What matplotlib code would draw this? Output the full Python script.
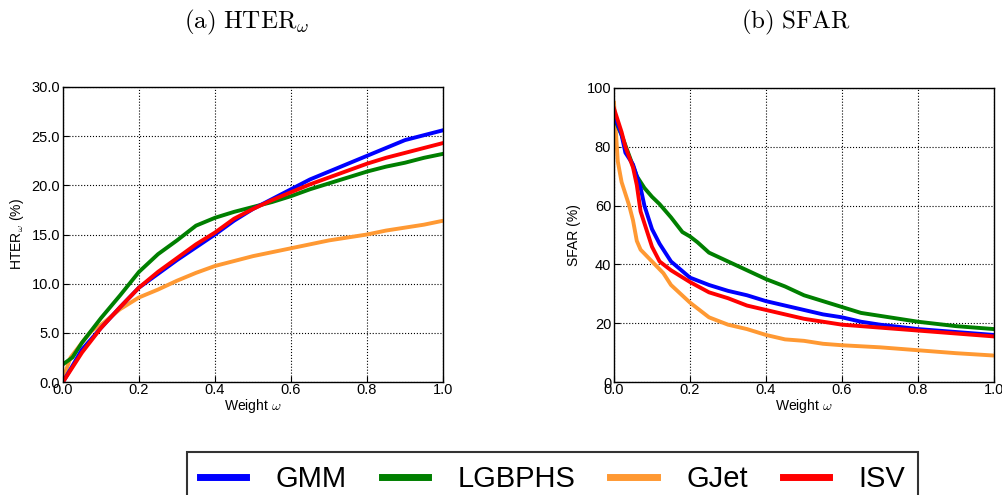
import numpy as np
import matplotlib
matplotlib.use('Agg')
import matplotlib.pyplot as plt

plt.rcParams['mathtext.fontset'] = 'cm'
plt.rcParams['font.family'] = ['Liberation Sans', 'DejaVu Sans']

names = ['GMM', 'LGBPHS', 'GJet', 'ISV']
colors = ['#0000ff', '#007f00', '#ff9933', '#ff0000']

# HTER_w (%) vs weight
hter_w = {
    'GMM': [0, 0.05, 0.1, 0.15, 0.2, 0.25, 0.3, 0.35, 0.4, 0.45, 0.5, 0.55, 0.6, 0.65, 0.7, 0.75, 0.8, 0.85, 0.9, 0.95, 1.0],
    'LGBPHS': [0, 0.025, 0.05, 0.1, 0.15, 0.2, 0.25, 0.3, 0.35, 0.4, 0.45, 0.5, 0.55, 0.6, 0.65, 0.7, 0.75, 0.8, 0.85, 0.9, 0.95, 1.0],
    'GJet': [0, 0.02, 0.05, 0.075, 0.1, 0.15, 0.2, 0.25, 0.3, 0.35, 0.4, 0.45, 0.5, 0.55, 0.6, 0.65, 0.7, 0.75, 0.8, 0.85, 0.9, 0.95, 1.0],
    'ISV': [0, 0.05, 0.1, 0.15, 0.2, 0.25, 0.3, 0.35, 0.4, 0.45, 0.5, 0.55, 0.6, 0.65, 0.7, 0.75, 0.8, 0.85, 0.9, 0.95, 1.0],
}
hter = {
    'GMM': [0, 3.3, 5.5, 7.6, 9.6, 11.0, 12.4, 13.7, 15.0, 16.4, 17.6, 18.6, 19.6, 20.6, 21.4, 22.2, 23.0, 23.8, 24.6, 25.1, 25.6],
    'LGBPHS': [1.8, 2.5, 4.0, 6.5, 8.8, 11.2, 13.0, 14.4, 15.9, 16.7, 17.3, 17.8, 18.3, 18.9, 19.6, 20.2, 20.8, 21.4, 21.9, 22.3, 22.8, 23.2],
    'GJet': [0.3, 2.5, 4.0, 5.2, 5.8, 7.4, 8.6, 9.4, 10.3, 11.1, 11.8, 12.3, 12.8, 13.2, 13.6, 14.0, 14.4, 14.7, 15.0, 15.4, 15.7, 16.0, 16.4],
    'ISV': [0, 3.0, 5.5, 7.6, 9.6, 11.2, 12.6, 14.0, 15.2, 16.6, 17.6, 18.5, 19.3, 20.1, 20.8, 21.5, 22.2, 22.8, 23.3, 23.8, 24.3],
}

# SFAR (%) vs weight
sfar_w = {
    'GMM': [0, 0.02, 0.03, 0.05, 0.07, 0.08, 0.1, 0.12, 0.15, 0.2, 0.25, 0.3, 0.35, 0.4, 0.45, 0.5, 0.55, 0.6, 0.65, 0.7, 0.8, 0.9, 1.0],
    'LGBPHS': [0, 0.02, 0.04, 0.06, 0.08, 0.1, 0.12, 0.15, 0.18, 0.2, 0.22, 0.25, 0.3, 0.35, 0.4, 0.45, 0.5, 0.55, 0.6, 0.65, 0.7, 0.8, 0.9, 1.0],
    'GJet': [0, 0.01, 0.02, 0.04, 0.05, 0.06, 0.07, 0.1, 0.13, 0.15, 0.2, 0.25, 0.3, 0.35, 0.4, 0.45, 0.5, 0.55, 0.6, 0.7, 0.8, 0.9, 1.0],
    'ISV': [0, 0.02, 0.03, 0.05, 0.06, 0.07, 0.1, 0.12, 0.15, 0.2, 0.25, 0.3, 0.35, 0.4, 0.45, 0.5, 0.55, 0.6, 0.7, 0.8, 0.9, 1.0],
}
sfar = {
    'GMM': [91, 84, 78, 74, 66, 60, 52, 47, 41, 35.5, 33, 31, 29.5, 27.5, 26, 24.5, 23, 22, 20.5, 19.5, 18, 17, 16],
    'LGBPHS': [90, 84, 77, 70, 66, 63, 60.5, 56, 51, 49.5, 47.5, 44, 41, 38, 35, 32.5, 29.5, 27.5, 25.5, 23.5, 22.5, 20.5, 19, 18],
    'GJet': [95, 75, 68, 60, 55, 48, 45, 41, 37, 33, 27, 22, 19.5, 18, 16, 14.5, 14, 13, 12.5, 11.8, 10.8, 9.8, 9],
    'ISV': [93, 85, 80, 73, 67, 58, 46, 41, 38, 34, 30.5, 28.5, 26, 24.5, 23, 21.5, 20.5, 19.5, 18.5, 17.5, 16.5, 15.5],
}

fig = plt.figure(figsize=(10.03, 4.95), dpi=100)
W, H = 1003.0, 495.0
ax1 = fig.add_axes([63 / W, 1 - 382 / H, 380 / W, 295 / H])
ax2 = fig.add_axes([614 / W, 1 - 382 / H, 380 / W, 294 / H])

order = ['GJet', 'LGBPHS', 'GMM', 'ISV']
for n in order:
    c = colors[names.index(n)]
    ax1.plot(hter_w[n], hter[n], color=c, lw=2.8, label=n)
    ax2.plot(sfar_w[n], sfar[n], color=c, lw=2.8, label=n)

ax1.set_ylim(0, 30)
ax1.set_yticks(np.arange(0, 30.1, 5))
ax1.set_yticklabels(['%.1f' % v for v in np.arange(0, 30.1, 5)])
ax1.set_ylabel(r'HTER$_\omega$ (%)', fontsize=10)
ax2.set_ylim(0, 100)
ax2.set_yticks(np.arange(0, 101, 20))
ax2.set_ylabel('SFAR (%)', fontsize=10)

for ax in (ax1, ax2):
    ax.set_xlim(0, 1)
    ax.set_xticks(np.arange(0, 1.01, 0.2))
    ax.set_xticklabels(['%.1f' % v for v in np.arange(0, 1.01, 0.2)])
    ax.set_xlabel(r'Weight $\omega$', fontsize=10, labelpad=0)
    ax.grid(True, color='black', linestyle=':', lw=0.8)
    ax.tick_params(direction='in', labelsize=10.5, length=4, pad=2)
    ax.tick_params(axis='x', pad=1)
    for s in ax.spines.values():
        s.set_linewidth(1.0)

fig.text(247 / W, 1 - 22 / H, r'$\mathrm{(a)\ HTER}_{\omega}$', ha='center', va='center', fontsize=18)
fig.text(796 / W, 1 - 22 / H, r'$\mathrm{(b)\ SFAR}$', ha='center', va='center', fontsize=18)

handles = [plt.Line2D([], [], color=c, lw=5) for c in colors]
leg = fig.legend(handles, names, loc='upper center', bbox_to_anchor=(552.5 / W, 1 - 452 / H),
                 ncol=4, fontsize=21, frameon=True, fancybox=False, handlelength=1.6,
                 handletextpad=1.0, columnspacing=1.2, borderpad=0.45, borderaxespad=0)
leg.get_frame().set_edgecolor('black')
leg.get_frame().set_linewidth(1.5)

fig.savefig('out.png', dpi=100)
